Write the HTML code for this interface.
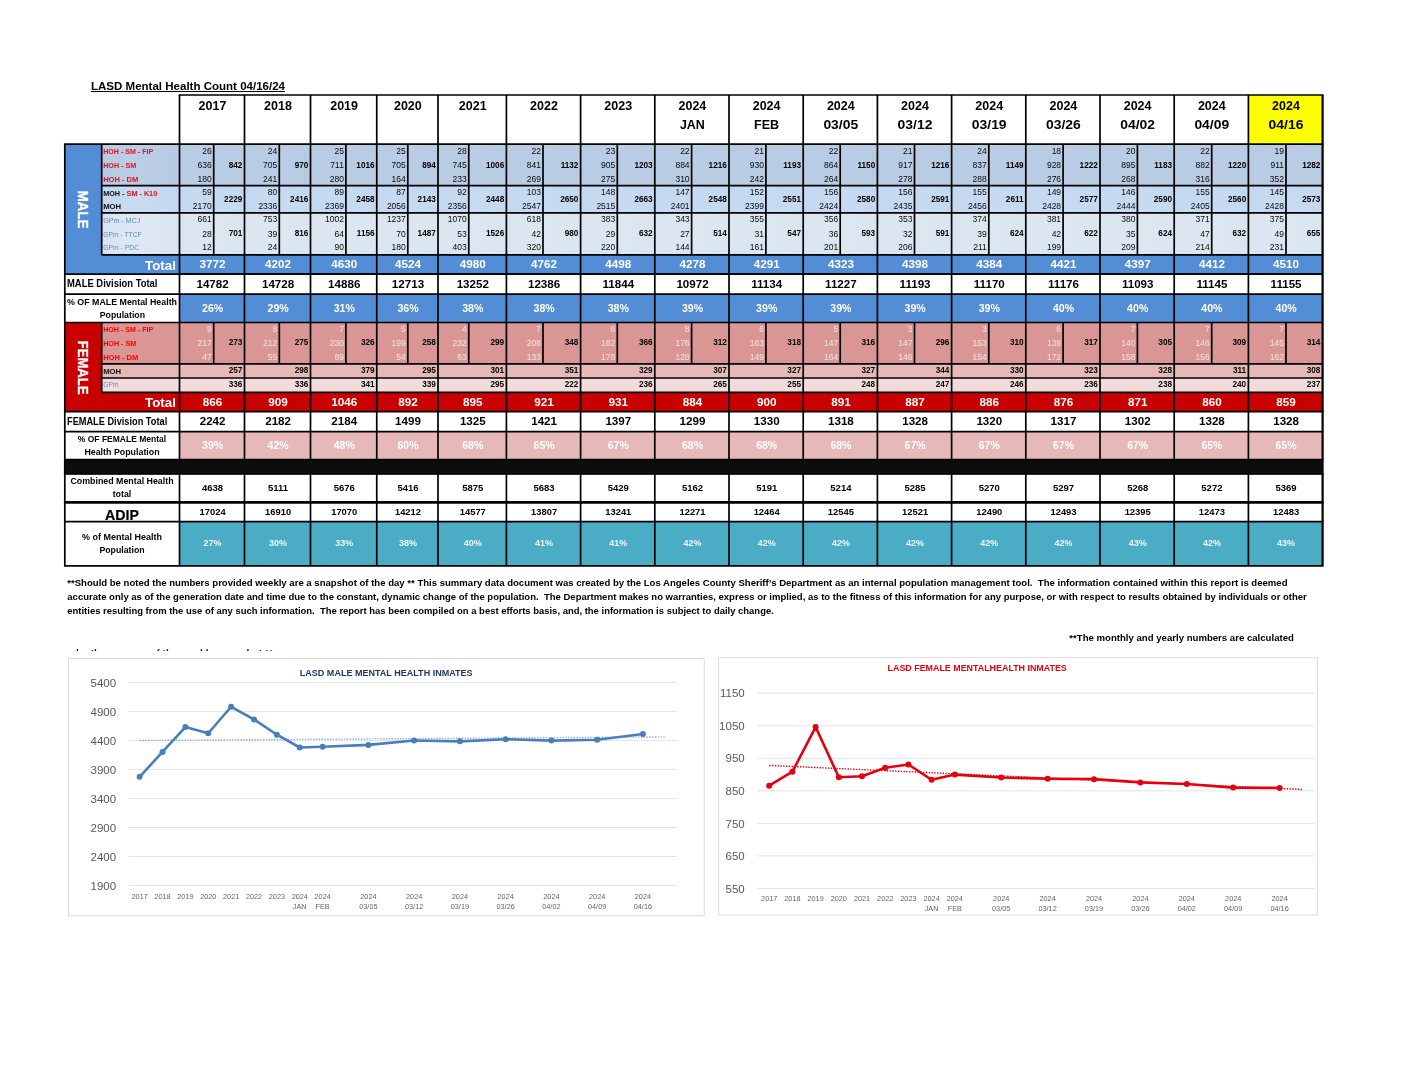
<!DOCTYPE html>
<html lang="en"><head><meta charset="utf-8"><title>LASD Mental Health Count 04/16/24</title>
<style>html,body{margin:0;padding:0;background:#fff}svg{display:block}text{white-space:pre}</style></head>
<body>
<svg width="1408" height="1088" viewBox="0 0 1408 1088" font-family='"Liberation Sans", Arial, sans-serif'>
<defs>
<linearGradient id="g1" x1="0" x2="1" y1="0" y2="0"><stop offset="0" stop-color="#b6cae3"/><stop offset="0.5" stop-color="#bbcee6"/><stop offset="1" stop-color="#b6cae3"/></linearGradient>
<linearGradient id="g2" x1="0" x2="1" y1="0" y2="0"><stop offset="0" stop-color="#c3d7f0"/><stop offset="0.5" stop-color="#c8dbf2"/><stop offset="1" stop-color="#c3d7f0"/></linearGradient>
<linearGradient id="g3" x1="0" x2="1" y1="0" y2="0"><stop offset="0" stop-color="#dae4f0"/><stop offset="0.5" stop-color="#dee8f2"/><stop offset="1" stop-color="#dae4f0"/></linearGradient>
</defs>
<rect x="0.00" y="0.00" width="1408.00" height="1088.00" fill="#fff"/>
<text x="91.00" y="90.20" font-size="10.6" font-weight="bold" fill="#000" textLength="194.00" lengthAdjust="spacingAndGlyphs">LASD Mental Health Count 04/16/24</text>
<line x1="91.00" y1="91.50" x2="285.00" y2="91.50" stroke="#000" stroke-width="1.2"/>
<rect x="1248.40" y="95.00" width="74.20" height="49.10" fill="#ffff00"/>
<rect x="64.80" y="144.10" width="1257.80" height="130.10" fill="#538dd5"/>
<rect x="101.70" y="144.10" width="1220.90" height="41.60" fill="#b8cce4"/>
<rect x="101.70" y="185.70" width="1220.90" height="27.10" fill="#c5d9f1"/>
<rect x="101.70" y="212.80" width="1220.90" height="42.10" fill="#dce6f1"/>
<rect x="179.50" y="294.10" width="1143.10" height="28.40" fill="#538dd5"/>
<rect x="64.80" y="322.50" width="1257.80" height="89.20" fill="#c80000"/>
<rect x="101.70" y="322.50" width="1220.90" height="41.30" fill="#da9694"/>
<rect x="101.70" y="363.80" width="1220.90" height="14.20" fill="#e6b8b7"/>
<rect x="101.70" y="378.00" width="1220.90" height="14.40" fill="#f2dcdb"/>
<rect x="179.50" y="431.60" width="1143.10" height="28.00" fill="#e6b8b7"/>
<rect x="63.95" y="459.60" width="1259.75" height="14.70" fill="#0d0d0d"/>
<rect x="179.50" y="521.70" width="1143.10" height="44.10" fill="#4bacc6"/>
<rect x="101.70" y="144.10" width="77.80" height="41.60" fill="url(#g1)"/>
<rect x="179.50" y="144.10" width="65.00" height="41.60" fill="url(#g1)" opacity="0.45"/>
<rect x="244.50" y="144.10" width="66.00" height="41.60" fill="url(#g1)" opacity="0.45"/>
<rect x="310.50" y="144.10" width="66.25" height="41.60" fill="url(#g1)" opacity="0.45"/>
<rect x="376.75" y="144.10" width="61.25" height="41.60" fill="url(#g1)" opacity="0.45"/>
<rect x="438.00" y="144.10" width="68.40" height="41.60" fill="url(#g1)" opacity="0.45"/>
<rect x="506.40" y="144.10" width="74.20" height="41.60" fill="url(#g1)" opacity="0.45"/>
<rect x="580.60" y="144.10" width="74.20" height="41.60" fill="url(#g1)" opacity="0.45"/>
<rect x="654.80" y="144.10" width="74.20" height="41.60" fill="url(#g1)" opacity="0.45"/>
<rect x="729.00" y="144.10" width="74.20" height="41.60" fill="url(#g1)" opacity="0.45"/>
<rect x="803.20" y="144.10" width="74.20" height="41.60" fill="url(#g1)" opacity="0.45"/>
<rect x="877.40" y="144.10" width="74.20" height="41.60" fill="url(#g1)" opacity="0.45"/>
<rect x="951.60" y="144.10" width="74.20" height="41.60" fill="url(#g1)" opacity="0.45"/>
<rect x="1025.80" y="144.10" width="74.20" height="41.60" fill="url(#g1)" opacity="0.45"/>
<rect x="1100.00" y="144.10" width="74.20" height="41.60" fill="url(#g1)" opacity="0.45"/>
<rect x="1174.20" y="144.10" width="74.20" height="41.60" fill="url(#g1)" opacity="0.45"/>
<rect x="1248.40" y="144.10" width="74.20" height="41.60" fill="url(#g1)" opacity="0.45"/>
<rect x="101.70" y="185.70" width="77.80" height="27.10" fill="url(#g2)"/>
<rect x="179.50" y="185.70" width="65.00" height="27.10" fill="url(#g2)" opacity="0.45"/>
<rect x="244.50" y="185.70" width="66.00" height="27.10" fill="url(#g2)" opacity="0.45"/>
<rect x="310.50" y="185.70" width="66.25" height="27.10" fill="url(#g2)" opacity="0.45"/>
<rect x="376.75" y="185.70" width="61.25" height="27.10" fill="url(#g2)" opacity="0.45"/>
<rect x="438.00" y="185.70" width="68.40" height="27.10" fill="url(#g2)" opacity="0.45"/>
<rect x="506.40" y="185.70" width="74.20" height="27.10" fill="url(#g2)" opacity="0.45"/>
<rect x="580.60" y="185.70" width="74.20" height="27.10" fill="url(#g2)" opacity="0.45"/>
<rect x="654.80" y="185.70" width="74.20" height="27.10" fill="url(#g2)" opacity="0.45"/>
<rect x="729.00" y="185.70" width="74.20" height="27.10" fill="url(#g2)" opacity="0.45"/>
<rect x="803.20" y="185.70" width="74.20" height="27.10" fill="url(#g2)" opacity="0.45"/>
<rect x="877.40" y="185.70" width="74.20" height="27.10" fill="url(#g2)" opacity="0.45"/>
<rect x="951.60" y="185.70" width="74.20" height="27.10" fill="url(#g2)" opacity="0.45"/>
<rect x="1025.80" y="185.70" width="74.20" height="27.10" fill="url(#g2)" opacity="0.45"/>
<rect x="1100.00" y="185.70" width="74.20" height="27.10" fill="url(#g2)" opacity="0.45"/>
<rect x="1174.20" y="185.70" width="74.20" height="27.10" fill="url(#g2)" opacity="0.45"/>
<rect x="1248.40" y="185.70" width="74.20" height="27.10" fill="url(#g2)" opacity="0.45"/>
<rect x="101.70" y="212.80" width="77.80" height="42.10" fill="url(#g3)"/>
<rect x="179.50" y="212.80" width="65.00" height="42.10" fill="url(#g3)" opacity="0.45"/>
<rect x="244.50" y="212.80" width="66.00" height="42.10" fill="url(#g3)" opacity="0.45"/>
<rect x="310.50" y="212.80" width="66.25" height="42.10" fill="url(#g3)" opacity="0.45"/>
<rect x="376.75" y="212.80" width="61.25" height="42.10" fill="url(#g3)" opacity="0.45"/>
<rect x="438.00" y="212.80" width="68.40" height="42.10" fill="url(#g3)" opacity="0.45"/>
<rect x="506.40" y="212.80" width="74.20" height="42.10" fill="url(#g3)" opacity="0.45"/>
<rect x="580.60" y="212.80" width="74.20" height="42.10" fill="url(#g3)" opacity="0.45"/>
<rect x="654.80" y="212.80" width="74.20" height="42.10" fill="url(#g3)" opacity="0.45"/>
<rect x="729.00" y="212.80" width="74.20" height="42.10" fill="url(#g3)" opacity="0.45"/>
<rect x="803.20" y="212.80" width="74.20" height="42.10" fill="url(#g3)" opacity="0.45"/>
<rect x="877.40" y="212.80" width="74.20" height="42.10" fill="url(#g3)" opacity="0.45"/>
<rect x="951.60" y="212.80" width="74.20" height="42.10" fill="url(#g3)" opacity="0.45"/>
<rect x="1025.80" y="212.80" width="74.20" height="42.10" fill="url(#g3)" opacity="0.45"/>
<rect x="1100.00" y="212.80" width="74.20" height="42.10" fill="url(#g3)" opacity="0.45"/>
<rect x="1174.20" y="212.80" width="74.20" height="42.10" fill="url(#g3)" opacity="0.45"/>
<rect x="1248.40" y="212.80" width="74.20" height="42.10" fill="url(#g3)" opacity="0.45"/>
<line x1="178.65" y1="95.00" x2="1323.45" y2="95.00" stroke="#000" stroke-width="1.7"/>
<line x1="63.95" y1="144.10" x2="1323.45" y2="144.10" stroke="#000" stroke-width="1.7"/>
<line x1="101.70" y1="185.70" x2="1322.60" y2="185.70" stroke="#000" stroke-width="1.7"/>
<line x1="101.70" y1="212.80" x2="1322.60" y2="212.80" stroke="#000" stroke-width="1.7"/>
<line x1="101.70" y1="254.90" x2="1322.60" y2="254.90" stroke="#000" stroke-width="1.7"/>
<line x1="179.50" y1="274.20" x2="1322.60" y2="274.20" stroke="#000" stroke-width="1.7"/>
<line x1="64.80" y1="274.20" x2="1322.60" y2="274.20" stroke="#000" stroke-width="1.7"/>
<line x1="64.80" y1="294.10" x2="1322.60" y2="294.10" stroke="#000" stroke-width="1.7"/>
<line x1="64.80" y1="322.50" x2="1322.60" y2="322.50" stroke="#000" stroke-width="1.7"/>
<line x1="101.70" y1="363.80" x2="1322.60" y2="363.80" stroke="#000" stroke-width="1.7"/>
<line x1="101.70" y1="378.00" x2="1322.60" y2="378.00" stroke="#000" stroke-width="1.7"/>
<line x1="101.70" y1="392.40" x2="1322.60" y2="392.40" stroke="#000" stroke-width="1.7"/>
<line x1="63.95" y1="411.70" x2="1323.45" y2="411.70" stroke="#000" stroke-width="1.7"/>
<line x1="63.95" y1="431.60" x2="1323.45" y2="431.60" stroke="#000" stroke-width="1.7"/>
<line x1="63.95" y1="459.60" x2="1323.45" y2="459.60" stroke="#000" stroke-width="1.7"/>
<line x1="63.95" y1="473.80" x2="1323.45" y2="473.80" stroke="#000" stroke-width="1.7"/>
<line x1="63.95" y1="521.70" x2="1323.45" y2="521.70" stroke="#000" stroke-width="1.7"/>
<line x1="63.95" y1="565.80" x2="1323.45" y2="565.80" stroke="#000" stroke-width="1.7"/>
<line x1="63.95" y1="502.40" x2="1323.45" y2="502.40" stroke="#000" stroke-width="2.6"/>
<line x1="64.80" y1="144.10" x2="64.80" y2="565.80" stroke="#000" stroke-width="1.7"/>
<line x1="101.70" y1="144.10" x2="101.70" y2="254.90" stroke="#000" stroke-width="1.7"/>
<line x1="101.70" y1="322.50" x2="101.70" y2="392.40" stroke="#000" stroke-width="1.7"/>
<line x1="179.50" y1="95.00" x2="179.50" y2="459.60" stroke="#000" stroke-width="1.7"/>
<line x1="179.50" y1="473.80" x2="179.50" y2="565.80" stroke="#000" stroke-width="1.7"/>
<line x1="244.50" y1="95.00" x2="244.50" y2="459.60" stroke="#000" stroke-width="1.7"/>
<line x1="244.50" y1="473.80" x2="244.50" y2="565.80" stroke="#000" stroke-width="1.7"/>
<line x1="310.50" y1="95.00" x2="310.50" y2="459.60" stroke="#000" stroke-width="1.7"/>
<line x1="310.50" y1="473.80" x2="310.50" y2="565.80" stroke="#000" stroke-width="1.7"/>
<line x1="376.75" y1="95.00" x2="376.75" y2="459.60" stroke="#000" stroke-width="1.7"/>
<line x1="376.75" y1="473.80" x2="376.75" y2="565.80" stroke="#000" stroke-width="1.7"/>
<line x1="438.00" y1="95.00" x2="438.00" y2="459.60" stroke="#000" stroke-width="1.7"/>
<line x1="438.00" y1="473.80" x2="438.00" y2="565.80" stroke="#000" stroke-width="1.7"/>
<line x1="506.40" y1="95.00" x2="506.40" y2="459.60" stroke="#000" stroke-width="1.7"/>
<line x1="506.40" y1="473.80" x2="506.40" y2="565.80" stroke="#000" stroke-width="1.7"/>
<line x1="580.60" y1="95.00" x2="580.60" y2="459.60" stroke="#000" stroke-width="1.7"/>
<line x1="580.60" y1="473.80" x2="580.60" y2="565.80" stroke="#000" stroke-width="1.7"/>
<line x1="654.80" y1="95.00" x2="654.80" y2="459.60" stroke="#000" stroke-width="1.7"/>
<line x1="654.80" y1="473.80" x2="654.80" y2="565.80" stroke="#000" stroke-width="1.7"/>
<line x1="729.00" y1="95.00" x2="729.00" y2="459.60" stroke="#000" stroke-width="1.7"/>
<line x1="729.00" y1="473.80" x2="729.00" y2="565.80" stroke="#000" stroke-width="1.7"/>
<line x1="803.20" y1="95.00" x2="803.20" y2="459.60" stroke="#000" stroke-width="1.7"/>
<line x1="803.20" y1="473.80" x2="803.20" y2="565.80" stroke="#000" stroke-width="1.7"/>
<line x1="877.40" y1="95.00" x2="877.40" y2="459.60" stroke="#000" stroke-width="1.7"/>
<line x1="877.40" y1="473.80" x2="877.40" y2="565.80" stroke="#000" stroke-width="1.7"/>
<line x1="951.60" y1="95.00" x2="951.60" y2="459.60" stroke="#000" stroke-width="1.7"/>
<line x1="951.60" y1="473.80" x2="951.60" y2="565.80" stroke="#000" stroke-width="1.7"/>
<line x1="1025.80" y1="95.00" x2="1025.80" y2="459.60" stroke="#000" stroke-width="1.7"/>
<line x1="1025.80" y1="473.80" x2="1025.80" y2="565.80" stroke="#000" stroke-width="1.7"/>
<line x1="1100.00" y1="95.00" x2="1100.00" y2="459.60" stroke="#000" stroke-width="1.7"/>
<line x1="1100.00" y1="473.80" x2="1100.00" y2="565.80" stroke="#000" stroke-width="1.7"/>
<line x1="1174.20" y1="95.00" x2="1174.20" y2="459.60" stroke="#000" stroke-width="1.7"/>
<line x1="1174.20" y1="473.80" x2="1174.20" y2="565.80" stroke="#000" stroke-width="1.7"/>
<line x1="1248.40" y1="95.00" x2="1248.40" y2="459.60" stroke="#000" stroke-width="1.7"/>
<line x1="1248.40" y1="473.80" x2="1248.40" y2="565.80" stroke="#000" stroke-width="1.7"/>
<line x1="1322.60" y1="95.00" x2="1322.60" y2="459.60" stroke="#000" stroke-width="2.2"/>
<line x1="1322.60" y1="473.80" x2="1322.60" y2="565.80" stroke="#000" stroke-width="2.2"/>
<line x1="213.70" y1="144.10" x2="213.70" y2="254.90" stroke="#000" stroke-width="1.7"/>
<line x1="213.70" y1="322.50" x2="213.70" y2="363.80" stroke="#000" stroke-width="1.7"/>
<line x1="279.30" y1="144.10" x2="279.30" y2="254.90" stroke="#000" stroke-width="1.7"/>
<line x1="279.30" y1="322.50" x2="279.30" y2="363.80" stroke="#000" stroke-width="1.7"/>
<line x1="345.90" y1="144.10" x2="345.90" y2="254.90" stroke="#000" stroke-width="1.7"/>
<line x1="345.90" y1="322.50" x2="345.90" y2="363.80" stroke="#000" stroke-width="1.7"/>
<line x1="407.80" y1="144.10" x2="407.80" y2="254.90" stroke="#000" stroke-width="1.7"/>
<line x1="407.80" y1="322.50" x2="407.80" y2="363.80" stroke="#000" stroke-width="1.7"/>
<line x1="468.75" y1="144.10" x2="468.75" y2="254.90" stroke="#000" stroke-width="1.7"/>
<line x1="468.75" y1="322.50" x2="468.75" y2="363.80" stroke="#000" stroke-width="1.7"/>
<line x1="543.00" y1="144.10" x2="543.00" y2="254.90" stroke="#000" stroke-width="1.7"/>
<line x1="543.00" y1="322.50" x2="543.00" y2="363.80" stroke="#000" stroke-width="1.7"/>
<line x1="617.30" y1="144.10" x2="617.30" y2="254.90" stroke="#000" stroke-width="1.7"/>
<line x1="617.30" y1="322.50" x2="617.30" y2="363.80" stroke="#000" stroke-width="1.7"/>
<line x1="691.60" y1="144.10" x2="691.60" y2="254.90" stroke="#000" stroke-width="1.7"/>
<line x1="691.60" y1="322.50" x2="691.60" y2="363.80" stroke="#000" stroke-width="1.7"/>
<line x1="765.90" y1="144.10" x2="765.90" y2="254.90" stroke="#000" stroke-width="1.7"/>
<line x1="765.90" y1="322.50" x2="765.90" y2="363.80" stroke="#000" stroke-width="1.7"/>
<line x1="840.20" y1="144.10" x2="840.20" y2="254.90" stroke="#000" stroke-width="1.7"/>
<line x1="840.20" y1="322.50" x2="840.20" y2="363.80" stroke="#000" stroke-width="1.7"/>
<line x1="914.50" y1="144.10" x2="914.50" y2="254.90" stroke="#000" stroke-width="1.7"/>
<line x1="914.50" y1="322.50" x2="914.50" y2="363.80" stroke="#000" stroke-width="1.7"/>
<line x1="988.80" y1="144.10" x2="988.80" y2="254.90" stroke="#000" stroke-width="1.7"/>
<line x1="988.80" y1="322.50" x2="988.80" y2="363.80" stroke="#000" stroke-width="1.7"/>
<line x1="1063.10" y1="144.10" x2="1063.10" y2="254.90" stroke="#000" stroke-width="1.7"/>
<line x1="1063.10" y1="322.50" x2="1063.10" y2="363.80" stroke="#000" stroke-width="1.7"/>
<line x1="1137.40" y1="144.10" x2="1137.40" y2="254.90" stroke="#000" stroke-width="1.7"/>
<line x1="1137.40" y1="322.50" x2="1137.40" y2="363.80" stroke="#000" stroke-width="1.7"/>
<line x1="1211.70" y1="144.10" x2="1211.70" y2="254.90" stroke="#000" stroke-width="1.7"/>
<line x1="1211.70" y1="322.50" x2="1211.70" y2="363.80" stroke="#000" stroke-width="1.7"/>
<line x1="1286.00" y1="144.10" x2="1286.00" y2="254.90" stroke="#000" stroke-width="1.7"/>
<line x1="1286.00" y1="322.50" x2="1286.00" y2="363.80" stroke="#000" stroke-width="1.7"/>
<text x="212.50" y="109.70" font-size="12.5" font-weight="bold" fill="#000" text-anchor="middle">2017</text>
<text x="278.00" y="109.70" font-size="12.5" font-weight="bold" fill="#000" text-anchor="middle">2018</text>
<text x="344.12" y="109.70" font-size="12.5" font-weight="bold" fill="#000" text-anchor="middle">2019</text>
<text x="407.88" y="109.70" font-size="12.5" font-weight="bold" fill="#000" text-anchor="middle">2020</text>
<text x="472.70" y="109.70" font-size="12.5" font-weight="bold" fill="#000" text-anchor="middle">2021</text>
<text x="544.00" y="109.70" font-size="12.5" font-weight="bold" fill="#000" text-anchor="middle">2022</text>
<text x="618.20" y="109.70" font-size="12.5" font-weight="bold" fill="#000" text-anchor="middle">2023</text>
<text x="692.40" y="109.70" font-size="12.5" font-weight="bold" fill="#000" text-anchor="middle">2024</text>
<text x="692.40" y="128.60" font-size="12.5" font-weight="bold" fill="#000" text-anchor="middle">JAN</text>
<text x="766.60" y="109.70" font-size="12.5" font-weight="bold" fill="#000" text-anchor="middle">2024</text>
<text x="766.60" y="128.60" font-size="12.5" font-weight="bold" fill="#000" text-anchor="middle">FEB</text>
<text x="840.80" y="109.70" font-size="12.5" font-weight="bold" fill="#000" text-anchor="middle">2024</text>
<text x="840.80" y="128.60" font-size="12.5" font-weight="bold" fill="#000" text-anchor="middle" textLength="34.80" lengthAdjust="spacingAndGlyphs">03/05</text>
<text x="915.00" y="109.70" font-size="12.5" font-weight="bold" fill="#000" text-anchor="middle">2024</text>
<text x="915.00" y="128.60" font-size="12.5" font-weight="bold" fill="#000" text-anchor="middle" textLength="34.80" lengthAdjust="spacingAndGlyphs">03/12</text>
<text x="989.20" y="109.70" font-size="12.5" font-weight="bold" fill="#000" text-anchor="middle">2024</text>
<text x="989.20" y="128.60" font-size="12.5" font-weight="bold" fill="#000" text-anchor="middle" textLength="34.80" lengthAdjust="spacingAndGlyphs">03/19</text>
<text x="1063.40" y="109.70" font-size="12.5" font-weight="bold" fill="#000" text-anchor="middle">2024</text>
<text x="1063.40" y="128.60" font-size="12.5" font-weight="bold" fill="#000" text-anchor="middle" textLength="34.80" lengthAdjust="spacingAndGlyphs">03/26</text>
<text x="1137.60" y="109.70" font-size="12.5" font-weight="bold" fill="#000" text-anchor="middle">2024</text>
<text x="1137.60" y="128.60" font-size="12.5" font-weight="bold" fill="#000" text-anchor="middle" textLength="34.80" lengthAdjust="spacingAndGlyphs">04/02</text>
<text x="1211.80" y="109.70" font-size="12.5" font-weight="bold" fill="#000" text-anchor="middle">2024</text>
<text x="1211.80" y="128.60" font-size="12.5" font-weight="bold" fill="#000" text-anchor="middle" textLength="34.80" lengthAdjust="spacingAndGlyphs">04/09</text>
<text x="1286.00" y="109.70" font-size="12.5" font-weight="bold" fill="#000" text-anchor="middle">2024</text>
<text x="1286.00" y="128.60" font-size="12.5" font-weight="bold" fill="#000" text-anchor="middle" textLength="34.80" lengthAdjust="spacingAndGlyphs">04/16</text>
<text x="103.20" y="153.90" font-size="6.3" font-weight="bold" fill="#e8101c" textLength="50.00" lengthAdjust="spacingAndGlyphs">HOH - SM - FIP</text>
<text x="103.20" y="167.70" font-size="6.3" font-weight="bold" fill="#e8101c" textLength="33.00" lengthAdjust="spacingAndGlyphs">HOH - SM</text>
<text x="103.20" y="181.60" font-size="6.3" font-weight="bold" fill="#e8101c" textLength="35.00" lengthAdjust="spacingAndGlyphs">HOH - DM</text>
<text x="103.2" y="195.6" font-size="6.3" font-weight="bold" textLength="54" lengthAdjust="spacingAndGlyphs"><tspan fill="#111">MOH - </tspan><tspan fill="#e8101c">SM - K10</tspan></text>
<text x="103.20" y="208.90" font-size="6.3" font-weight="bold" fill="#111" textLength="18.00" lengthAdjust="spacingAndGlyphs">MOH</text>
<text x="103.20" y="222.60" font-size="6.3" fill="#5b8bd0" textLength="37.00" lengthAdjust="spacingAndGlyphs">GPm - MCJ</text>
<text x="103.20" y="236.60" font-size="6.3" fill="#5b8bd0" textLength="38.50" lengthAdjust="spacingAndGlyphs">GPm - TTCF</text>
<text x="103.20" y="250.20" font-size="6.3" fill="#5b8bd0" textLength="36.00" lengthAdjust="spacingAndGlyphs">GPm - PDC</text>
<text transform="translate(78.3,209.5) rotate(90)" font-size="15.4" font-weight="bold" fill="#fff" stroke="#fff" stroke-width="0.35" text-anchor="middle" textLength="38" lengthAdjust="spacingAndGlyphs">MALE</text>
<text transform="translate(77.7,367.6) rotate(90)" font-size="15.4" font-weight="bold" fill="#fff" stroke="#fff" stroke-width="0.35" text-anchor="middle" textLength="54" lengthAdjust="spacingAndGlyphs">FEMALE</text>
<text x="175.90" y="269.60" font-size="13" font-weight="bold" fill="#fff" text-anchor="end" textLength="30.80" lengthAdjust="spacingAndGlyphs">Total</text>
<text x="175.90" y="406.80" font-size="13" font-weight="bold" fill="#fff" text-anchor="end" textLength="30.80" lengthAdjust="spacingAndGlyphs">Total</text>
<text x="67.00" y="286.70" font-size="11.0" font-weight="bold" fill="#000" textLength="90.50" lengthAdjust="spacingAndGlyphs">MALE Division Total</text>
<text x="122.00" y="304.60" font-size="9.5" font-weight="bold" fill="#000" text-anchor="middle" textLength="110.00" lengthAdjust="spacingAndGlyphs">% OF MALE Mental Health</text>
<text x="122.40" y="317.50" font-size="9.5" font-weight="bold" fill="#000" text-anchor="middle" textLength="45.30" lengthAdjust="spacingAndGlyphs">Population</text>
<text x="67.00" y="424.60" font-size="10.2" font-weight="bold" fill="#000" textLength="100.20" lengthAdjust="spacingAndGlyphs">FEMALE Division Total</text>
<text x="122.00" y="441.50" font-size="9.5" font-weight="bold" fill="#000" text-anchor="middle" textLength="88.30" lengthAdjust="spacingAndGlyphs">% OF FEMALE Mental</text>
<text x="122.00" y="455.20" font-size="9.5" font-weight="bold" fill="#000" text-anchor="middle" textLength="75.20" lengthAdjust="spacingAndGlyphs">Health Population</text>
<text x="122.00" y="484.40" font-size="9.3" font-weight="bold" fill="#000" text-anchor="middle" textLength="103.20" lengthAdjust="spacingAndGlyphs">Combined Mental Health</text>
<text x="122.00" y="497.30" font-size="9.3" font-weight="bold" fill="#000" text-anchor="middle" textLength="18.60" lengthAdjust="spacingAndGlyphs">total</text>
<text x="122.00" y="519.90" font-size="14.2" font-weight="bold" fill="#000" text-anchor="middle" stroke="#000" stroke-width="0.2">ADIP</text>
<text x="122.00" y="539.50" font-size="9.3" font-weight="bold" fill="#000" text-anchor="middle" textLength="80.00" lengthAdjust="spacingAndGlyphs">% of Mental Health</text>
<text x="122.00" y="553.20" font-size="9.3" font-weight="bold" fill="#000" text-anchor="middle" textLength="45.20" lengthAdjust="spacingAndGlyphs">Population</text>
<text x="103.20" y="331.80" font-size="6.3" font-weight="bold" fill="#ff0000" textLength="50.00" lengthAdjust="spacingAndGlyphs">HOH - SM - FIP</text>
<text x="103.20" y="345.50" font-size="6.3" font-weight="bold" fill="#ff0000" textLength="33.00" lengthAdjust="spacingAndGlyphs">HOH - SM</text>
<text x="103.20" y="359.60" font-size="6.3" font-weight="bold" fill="#ff0000" textLength="35.00" lengthAdjust="spacingAndGlyphs">HOH - DM</text>
<text x="103.20" y="373.50" font-size="6.3" font-weight="bold" fill="#111" textLength="18.00" lengthAdjust="spacingAndGlyphs">MOH</text>
<text x="103.20" y="387.40" font-size="6.3" fill="#5b8bd6" textLength="15.50" lengthAdjust="spacingAndGlyphs">GPm</text>
<text x="211.70" y="154.20" font-size="8.5" fill="#0a0a0a" text-anchor="end">26</text>
<text x="211.70" y="168.20" font-size="8.5" fill="#0a0a0a" text-anchor="end">636</text>
<text x="211.70" y="181.70" font-size="8.5" fill="#0a0a0a" text-anchor="end">180</text>
<text x="242.30" y="167.70" font-size="8.2" font-weight="bold" fill="#000" text-anchor="end">842</text>
<text x="211.70" y="195.40" font-size="8.5" fill="#0a0a0a" text-anchor="end">59</text>
<text x="211.70" y="209.10" font-size="8.5" fill="#0a0a0a" text-anchor="end">2170</text>
<text x="242.30" y="201.80" font-size="8.2" font-weight="bold" fill="#000" text-anchor="end">2229</text>
<text x="211.70" y="222.40" font-size="8.5" fill="#0a0a0a" text-anchor="end">661</text>
<text x="211.70" y="236.60" font-size="8.5" fill="#0a0a0a" text-anchor="end">28</text>
<text x="211.70" y="250.30" font-size="8.5" fill="#0a0a0a" text-anchor="end">12</text>
<text x="242.30" y="236.10" font-size="8.2" font-weight="bold" fill="#000" text-anchor="end">701</text>
<text x="212.60" y="267.80" font-size="11.7" font-weight="bold" fill="#fff" text-anchor="middle">3772</text>
<text x="212.60" y="287.70" font-size="11.6" font-weight="bold" fill="#000" text-anchor="middle">14782</text>
<text x="212.60" y="312.20" font-size="10.6" font-weight="bold" fill="#fff" text-anchor="middle">26%</text>
<text x="211.70" y="332.30" font-size="8.5" fill="#f6e4e3" text-anchor="end">9</text>
<text x="211.70" y="346.00" font-size="8.5" fill="#f6e4e3" text-anchor="end">217</text>
<text x="211.70" y="359.60" font-size="8.5" fill="#f6e4e3" text-anchor="end">47</text>
<text x="242.30" y="344.70" font-size="8.2" font-weight="bold" fill="#000" text-anchor="end">273</text>
<text x="242.30" y="372.50" font-size="8.2" font-weight="bold" fill="#000" text-anchor="end">257</text>
<text x="242.30" y="386.90" font-size="8.2" font-weight="bold" fill="#000" text-anchor="end">336</text>
<text x="212.60" y="405.50" font-size="11.7" font-weight="bold" fill="#fff" text-anchor="middle">866</text>
<text x="212.60" y="424.60" font-size="11.6" font-weight="bold" fill="#000" text-anchor="middle">2242</text>
<text x="212.60" y="448.50" font-size="10.5" font-weight="bold" fill="#fff" text-anchor="middle">39%</text>
<text x="212.60" y="490.60" font-size="9.5" font-weight="bold" fill="#000" text-anchor="middle">4638</text>
<text x="212.60" y="514.70" font-size="9.4" font-weight="bold" fill="#000" text-anchor="middle">17024</text>
<text x="212.60" y="546.20" font-size="9" font-weight="bold" fill="#eef8fb" text-anchor="middle">27%</text>
<text x="277.30" y="154.20" font-size="8.5" fill="#0a0a0a" text-anchor="end">24</text>
<text x="277.30" y="168.20" font-size="8.5" fill="#0a0a0a" text-anchor="end">705</text>
<text x="277.30" y="181.70" font-size="8.5" fill="#0a0a0a" text-anchor="end">241</text>
<text x="308.30" y="167.70" font-size="8.2" font-weight="bold" fill="#000" text-anchor="end">970</text>
<text x="277.30" y="195.40" font-size="8.5" fill="#0a0a0a" text-anchor="end">80</text>
<text x="277.30" y="209.10" font-size="8.5" fill="#0a0a0a" text-anchor="end">2336</text>
<text x="308.30" y="201.80" font-size="8.2" font-weight="bold" fill="#000" text-anchor="end">2416</text>
<text x="277.30" y="222.40" font-size="8.5" fill="#0a0a0a" text-anchor="end">753</text>
<text x="277.30" y="236.60" font-size="8.5" fill="#0a0a0a" text-anchor="end">39</text>
<text x="277.30" y="250.30" font-size="8.5" fill="#0a0a0a" text-anchor="end">24</text>
<text x="308.30" y="236.10" font-size="8.2" font-weight="bold" fill="#000" text-anchor="end">816</text>
<text x="278.10" y="267.80" font-size="11.7" font-weight="bold" fill="#fff" text-anchor="middle">4202</text>
<text x="278.10" y="287.70" font-size="11.6" font-weight="bold" fill="#000" text-anchor="middle">14728</text>
<text x="278.10" y="312.20" font-size="10.6" font-weight="bold" fill="#fff" text-anchor="middle">29%</text>
<text x="277.30" y="332.30" font-size="8.5" fill="#f6e4e3" text-anchor="end">8</text>
<text x="277.30" y="346.00" font-size="8.5" fill="#f6e4e3" text-anchor="end">212</text>
<text x="277.30" y="359.60" font-size="8.5" fill="#f6e4e3" text-anchor="end">55</text>
<text x="308.30" y="344.70" font-size="8.2" font-weight="bold" fill="#000" text-anchor="end">275</text>
<text x="308.30" y="372.50" font-size="8.2" font-weight="bold" fill="#000" text-anchor="end">298</text>
<text x="308.30" y="386.90" font-size="8.2" font-weight="bold" fill="#000" text-anchor="end">336</text>
<text x="278.10" y="405.50" font-size="11.7" font-weight="bold" fill="#fff" text-anchor="middle">909</text>
<text x="278.10" y="424.60" font-size="11.6" font-weight="bold" fill="#000" text-anchor="middle">2182</text>
<text x="278.10" y="448.50" font-size="10.5" font-weight="bold" fill="#fff" text-anchor="middle">42%</text>
<text x="278.10" y="490.60" font-size="9.5" font-weight="bold" fill="#000" text-anchor="middle">5111</text>
<text x="278.10" y="514.70" font-size="9.4" font-weight="bold" fill="#000" text-anchor="middle">16910</text>
<text x="278.10" y="546.20" font-size="9" font-weight="bold" fill="#eef8fb" text-anchor="middle">30%</text>
<text x="343.90" y="154.20" font-size="8.5" fill="#0a0a0a" text-anchor="end">25</text>
<text x="343.90" y="168.20" font-size="8.5" fill="#0a0a0a" text-anchor="end">711</text>
<text x="343.90" y="181.70" font-size="8.5" fill="#0a0a0a" text-anchor="end">280</text>
<text x="374.55" y="167.70" font-size="8.2" font-weight="bold" fill="#000" text-anchor="end">1016</text>
<text x="343.90" y="195.40" font-size="8.5" fill="#0a0a0a" text-anchor="end">89</text>
<text x="343.90" y="209.10" font-size="8.5" fill="#0a0a0a" text-anchor="end">2369</text>
<text x="374.55" y="201.80" font-size="8.2" font-weight="bold" fill="#000" text-anchor="end">2458</text>
<text x="343.90" y="222.40" font-size="8.5" fill="#0a0a0a" text-anchor="end">1002</text>
<text x="343.90" y="236.60" font-size="8.5" fill="#0a0a0a" text-anchor="end">64</text>
<text x="343.90" y="250.30" font-size="8.5" fill="#0a0a0a" text-anchor="end">90</text>
<text x="374.55" y="236.10" font-size="8.2" font-weight="bold" fill="#000" text-anchor="end">1156</text>
<text x="344.23" y="267.80" font-size="11.7" font-weight="bold" fill="#fff" text-anchor="middle">4630</text>
<text x="344.23" y="287.70" font-size="11.6" font-weight="bold" fill="#000" text-anchor="middle">14886</text>
<text x="344.23" y="312.20" font-size="10.6" font-weight="bold" fill="#fff" text-anchor="middle">31%</text>
<text x="343.90" y="332.30" font-size="8.5" fill="#f6e4e3" text-anchor="end">7</text>
<text x="343.90" y="346.00" font-size="8.5" fill="#f6e4e3" text-anchor="end">230</text>
<text x="343.90" y="359.60" font-size="8.5" fill="#f6e4e3" text-anchor="end">89</text>
<text x="374.55" y="344.70" font-size="8.2" font-weight="bold" fill="#000" text-anchor="end">326</text>
<text x="374.55" y="372.50" font-size="8.2" font-weight="bold" fill="#000" text-anchor="end">379</text>
<text x="374.55" y="386.90" font-size="8.2" font-weight="bold" fill="#000" text-anchor="end">341</text>
<text x="344.23" y="405.50" font-size="11.7" font-weight="bold" fill="#fff" text-anchor="middle">1046</text>
<text x="344.23" y="424.60" font-size="11.6" font-weight="bold" fill="#000" text-anchor="middle">2184</text>
<text x="344.23" y="448.50" font-size="10.5" font-weight="bold" fill="#fff" text-anchor="middle">48%</text>
<text x="344.23" y="490.60" font-size="9.5" font-weight="bold" fill="#000" text-anchor="middle">5676</text>
<text x="344.23" y="514.70" font-size="9.4" font-weight="bold" fill="#000" text-anchor="middle">17070</text>
<text x="344.23" y="546.20" font-size="9" font-weight="bold" fill="#eef8fb" text-anchor="middle">33%</text>
<text x="405.80" y="154.20" font-size="8.5" fill="#0a0a0a" text-anchor="end">25</text>
<text x="405.80" y="168.20" font-size="8.5" fill="#0a0a0a" text-anchor="end">705</text>
<text x="405.80" y="181.70" font-size="8.5" fill="#0a0a0a" text-anchor="end">164</text>
<text x="435.80" y="167.70" font-size="8.2" font-weight="bold" fill="#000" text-anchor="end">894</text>
<text x="405.80" y="195.40" font-size="8.5" fill="#0a0a0a" text-anchor="end">87</text>
<text x="405.80" y="209.10" font-size="8.5" fill="#0a0a0a" text-anchor="end">2056</text>
<text x="435.80" y="201.80" font-size="8.2" font-weight="bold" fill="#000" text-anchor="end">2143</text>
<text x="405.80" y="222.40" font-size="8.5" fill="#0a0a0a" text-anchor="end">1237</text>
<text x="405.80" y="236.60" font-size="8.5" fill="#0a0a0a" text-anchor="end">70</text>
<text x="405.80" y="250.30" font-size="8.5" fill="#0a0a0a" text-anchor="end">180</text>
<text x="435.80" y="236.10" font-size="8.2" font-weight="bold" fill="#000" text-anchor="end">1487</text>
<text x="407.98" y="267.80" font-size="11.7" font-weight="bold" fill="#fff" text-anchor="middle">4524</text>
<text x="407.98" y="287.70" font-size="11.6" font-weight="bold" fill="#000" text-anchor="middle">12713</text>
<text x="407.98" y="312.20" font-size="10.6" font-weight="bold" fill="#fff" text-anchor="middle">36%</text>
<text x="405.80" y="332.30" font-size="8.5" fill="#f6e4e3" text-anchor="end">5</text>
<text x="405.80" y="346.00" font-size="8.5" fill="#f6e4e3" text-anchor="end">199</text>
<text x="405.80" y="359.60" font-size="8.5" fill="#f6e4e3" text-anchor="end">54</text>
<text x="435.80" y="344.70" font-size="8.2" font-weight="bold" fill="#000" text-anchor="end">258</text>
<text x="435.80" y="372.50" font-size="8.2" font-weight="bold" fill="#000" text-anchor="end">295</text>
<text x="435.80" y="386.90" font-size="8.2" font-weight="bold" fill="#000" text-anchor="end">339</text>
<text x="407.98" y="405.50" font-size="11.7" font-weight="bold" fill="#fff" text-anchor="middle">892</text>
<text x="407.98" y="424.60" font-size="11.6" font-weight="bold" fill="#000" text-anchor="middle">1499</text>
<text x="407.98" y="448.50" font-size="10.5" font-weight="bold" fill="#fff" text-anchor="middle">60%</text>
<text x="407.98" y="490.60" font-size="9.5" font-weight="bold" fill="#000" text-anchor="middle">5416</text>
<text x="407.98" y="514.70" font-size="9.4" font-weight="bold" fill="#000" text-anchor="middle">14212</text>
<text x="407.98" y="546.20" font-size="9" font-weight="bold" fill="#eef8fb" text-anchor="middle">38%</text>
<text x="466.75" y="154.20" font-size="8.5" fill="#0a0a0a" text-anchor="end">28</text>
<text x="466.75" y="168.20" font-size="8.5" fill="#0a0a0a" text-anchor="end">745</text>
<text x="466.75" y="181.70" font-size="8.5" fill="#0a0a0a" text-anchor="end">233</text>
<text x="504.20" y="167.70" font-size="8.2" font-weight="bold" fill="#000" text-anchor="end">1006</text>
<text x="466.75" y="195.40" font-size="8.5" fill="#0a0a0a" text-anchor="end">92</text>
<text x="466.75" y="209.10" font-size="8.5" fill="#0a0a0a" text-anchor="end">2356</text>
<text x="504.20" y="201.80" font-size="8.2" font-weight="bold" fill="#000" text-anchor="end">2448</text>
<text x="466.75" y="222.40" font-size="8.5" fill="#0a0a0a" text-anchor="end">1070</text>
<text x="466.75" y="236.60" font-size="8.5" fill="#0a0a0a" text-anchor="end">53</text>
<text x="466.75" y="250.30" font-size="8.5" fill="#0a0a0a" text-anchor="end">403</text>
<text x="504.20" y="236.10" font-size="8.2" font-weight="bold" fill="#000" text-anchor="end">1526</text>
<text x="472.80" y="267.80" font-size="11.7" font-weight="bold" fill="#fff" text-anchor="middle">4980</text>
<text x="472.80" y="287.70" font-size="11.6" font-weight="bold" fill="#000" text-anchor="middle">13252</text>
<text x="472.80" y="312.20" font-size="10.6" font-weight="bold" fill="#fff" text-anchor="middle">38%</text>
<text x="466.75" y="332.30" font-size="8.5" fill="#f6e4e3" text-anchor="end">4</text>
<text x="466.75" y="346.00" font-size="8.5" fill="#f6e4e3" text-anchor="end">232</text>
<text x="466.75" y="359.60" font-size="8.5" fill="#f6e4e3" text-anchor="end">63</text>
<text x="504.20" y="344.70" font-size="8.2" font-weight="bold" fill="#000" text-anchor="end">299</text>
<text x="504.20" y="372.50" font-size="8.2" font-weight="bold" fill="#000" text-anchor="end">301</text>
<text x="504.20" y="386.90" font-size="8.2" font-weight="bold" fill="#000" text-anchor="end">295</text>
<text x="472.80" y="405.50" font-size="11.7" font-weight="bold" fill="#fff" text-anchor="middle">895</text>
<text x="472.80" y="424.60" font-size="11.6" font-weight="bold" fill="#000" text-anchor="middle">1325</text>
<text x="472.80" y="448.50" font-size="10.5" font-weight="bold" fill="#fff" text-anchor="middle">68%</text>
<text x="472.80" y="490.60" font-size="9.5" font-weight="bold" fill="#000" text-anchor="middle">5875</text>
<text x="472.80" y="514.70" font-size="9.4" font-weight="bold" fill="#000" text-anchor="middle">14577</text>
<text x="472.80" y="546.20" font-size="9" font-weight="bold" fill="#eef8fb" text-anchor="middle">40%</text>
<text x="541.00" y="154.20" font-size="8.5" fill="#0a0a0a" text-anchor="end">22</text>
<text x="541.00" y="168.20" font-size="8.5" fill="#0a0a0a" text-anchor="end">841</text>
<text x="541.00" y="181.70" font-size="8.5" fill="#0a0a0a" text-anchor="end">269</text>
<text x="578.40" y="167.70" font-size="8.2" font-weight="bold" fill="#000" text-anchor="end">1132</text>
<text x="541.00" y="195.40" font-size="8.5" fill="#0a0a0a" text-anchor="end">103</text>
<text x="541.00" y="209.10" font-size="8.5" fill="#0a0a0a" text-anchor="end">2547</text>
<text x="578.40" y="201.80" font-size="8.2" font-weight="bold" fill="#000" text-anchor="end">2650</text>
<text x="541.00" y="222.40" font-size="8.5" fill="#0a0a0a" text-anchor="end">618</text>
<text x="541.00" y="236.60" font-size="8.5" fill="#0a0a0a" text-anchor="end">42</text>
<text x="541.00" y="250.30" font-size="8.5" fill="#0a0a0a" text-anchor="end">320</text>
<text x="578.40" y="236.10" font-size="8.2" font-weight="bold" fill="#000" text-anchor="end">980</text>
<text x="544.10" y="267.80" font-size="11.7" font-weight="bold" fill="#fff" text-anchor="middle">4762</text>
<text x="544.10" y="287.70" font-size="11.6" font-weight="bold" fill="#000" text-anchor="middle">12386</text>
<text x="544.10" y="312.20" font-size="10.6" font-weight="bold" fill="#fff" text-anchor="middle">38%</text>
<text x="541.00" y="332.30" font-size="8.5" fill="#f6e4e3" text-anchor="end">7</text>
<text x="541.00" y="346.00" font-size="8.5" fill="#f6e4e3" text-anchor="end">208</text>
<text x="541.00" y="359.60" font-size="8.5" fill="#f6e4e3" text-anchor="end">133</text>
<text x="578.40" y="344.70" font-size="8.2" font-weight="bold" fill="#000" text-anchor="end">348</text>
<text x="578.40" y="372.50" font-size="8.2" font-weight="bold" fill="#000" text-anchor="end">351</text>
<text x="578.40" y="386.90" font-size="8.2" font-weight="bold" fill="#000" text-anchor="end">222</text>
<text x="544.10" y="405.50" font-size="11.7" font-weight="bold" fill="#fff" text-anchor="middle">921</text>
<text x="544.10" y="424.60" font-size="11.6" font-weight="bold" fill="#000" text-anchor="middle">1421</text>
<text x="544.10" y="448.50" font-size="10.5" font-weight="bold" fill="#fff" text-anchor="middle">65%</text>
<text x="544.10" y="490.60" font-size="9.5" font-weight="bold" fill="#000" text-anchor="middle">5683</text>
<text x="544.10" y="514.70" font-size="9.4" font-weight="bold" fill="#000" text-anchor="middle">13807</text>
<text x="544.10" y="546.20" font-size="9" font-weight="bold" fill="#eef8fb" text-anchor="middle">41%</text>
<text x="615.30" y="154.20" font-size="8.5" fill="#0a0a0a" text-anchor="end">23</text>
<text x="615.30" y="168.20" font-size="8.5" fill="#0a0a0a" text-anchor="end">905</text>
<text x="615.30" y="181.70" font-size="8.5" fill="#0a0a0a" text-anchor="end">275</text>
<text x="652.60" y="167.70" font-size="8.2" font-weight="bold" fill="#000" text-anchor="end">1203</text>
<text x="615.30" y="195.40" font-size="8.5" fill="#0a0a0a" text-anchor="end">148</text>
<text x="615.30" y="209.10" font-size="8.5" fill="#0a0a0a" text-anchor="end">2515</text>
<text x="652.60" y="201.80" font-size="8.2" font-weight="bold" fill="#000" text-anchor="end">2663</text>
<text x="615.30" y="222.40" font-size="8.5" fill="#0a0a0a" text-anchor="end">383</text>
<text x="615.30" y="236.60" font-size="8.5" fill="#0a0a0a" text-anchor="end">29</text>
<text x="615.30" y="250.30" font-size="8.5" fill="#0a0a0a" text-anchor="end">220</text>
<text x="652.60" y="236.10" font-size="8.2" font-weight="bold" fill="#000" text-anchor="end">632</text>
<text x="618.30" y="267.80" font-size="11.7" font-weight="bold" fill="#fff" text-anchor="middle">4498</text>
<text x="618.30" y="287.70" font-size="11.6" font-weight="bold" fill="#000" text-anchor="middle">11844</text>
<text x="618.30" y="312.20" font-size="10.6" font-weight="bold" fill="#fff" text-anchor="middle">38%</text>
<text x="615.30" y="332.30" font-size="8.5" fill="#f6e4e3" text-anchor="end">6</text>
<text x="615.30" y="346.00" font-size="8.5" fill="#f6e4e3" text-anchor="end">182</text>
<text x="615.30" y="359.60" font-size="8.5" fill="#f6e4e3" text-anchor="end">178</text>
<text x="652.60" y="344.70" font-size="8.2" font-weight="bold" fill="#000" text-anchor="end">366</text>
<text x="652.60" y="372.50" font-size="8.2" font-weight="bold" fill="#000" text-anchor="end">329</text>
<text x="652.60" y="386.90" font-size="8.2" font-weight="bold" fill="#000" text-anchor="end">236</text>
<text x="618.30" y="405.50" font-size="11.7" font-weight="bold" fill="#fff" text-anchor="middle">931</text>
<text x="618.30" y="424.60" font-size="11.6" font-weight="bold" fill="#000" text-anchor="middle">1397</text>
<text x="618.30" y="448.50" font-size="10.5" font-weight="bold" fill="#fff" text-anchor="middle">67%</text>
<text x="618.30" y="490.60" font-size="9.5" font-weight="bold" fill="#000" text-anchor="middle">5429</text>
<text x="618.30" y="514.70" font-size="9.4" font-weight="bold" fill="#000" text-anchor="middle">13241</text>
<text x="618.30" y="546.20" font-size="9" font-weight="bold" fill="#eef8fb" text-anchor="middle">41%</text>
<text x="689.60" y="154.20" font-size="8.5" fill="#0a0a0a" text-anchor="end">22</text>
<text x="689.60" y="168.20" font-size="8.5" fill="#0a0a0a" text-anchor="end">884</text>
<text x="689.60" y="181.70" font-size="8.5" fill="#0a0a0a" text-anchor="end">310</text>
<text x="726.80" y="167.70" font-size="8.2" font-weight="bold" fill="#000" text-anchor="end">1216</text>
<text x="689.60" y="195.40" font-size="8.5" fill="#0a0a0a" text-anchor="end">147</text>
<text x="689.60" y="209.10" font-size="8.5" fill="#0a0a0a" text-anchor="end">2401</text>
<text x="726.80" y="201.80" font-size="8.2" font-weight="bold" fill="#000" text-anchor="end">2548</text>
<text x="689.60" y="222.40" font-size="8.5" fill="#0a0a0a" text-anchor="end">343</text>
<text x="689.60" y="236.60" font-size="8.5" fill="#0a0a0a" text-anchor="end">27</text>
<text x="689.60" y="250.30" font-size="8.5" fill="#0a0a0a" text-anchor="end">144</text>
<text x="726.80" y="236.10" font-size="8.2" font-weight="bold" fill="#000" text-anchor="end">514</text>
<text x="692.50" y="267.80" font-size="11.7" font-weight="bold" fill="#fff" text-anchor="middle">4278</text>
<text x="692.50" y="287.70" font-size="11.6" font-weight="bold" fill="#000" text-anchor="middle">10972</text>
<text x="692.50" y="312.20" font-size="10.6" font-weight="bold" fill="#fff" text-anchor="middle">39%</text>
<text x="689.60" y="332.30" font-size="8.5" fill="#f6e4e3" text-anchor="end">8</text>
<text x="689.60" y="346.00" font-size="8.5" fill="#f6e4e3" text-anchor="end">176</text>
<text x="689.60" y="359.60" font-size="8.5" fill="#f6e4e3" text-anchor="end">128</text>
<text x="726.80" y="344.70" font-size="8.2" font-weight="bold" fill="#000" text-anchor="end">312</text>
<text x="726.80" y="372.50" font-size="8.2" font-weight="bold" fill="#000" text-anchor="end">307</text>
<text x="726.80" y="386.90" font-size="8.2" font-weight="bold" fill="#000" text-anchor="end">265</text>
<text x="692.50" y="405.50" font-size="11.7" font-weight="bold" fill="#fff" text-anchor="middle">884</text>
<text x="692.50" y="424.60" font-size="11.6" font-weight="bold" fill="#000" text-anchor="middle">1299</text>
<text x="692.50" y="448.50" font-size="10.5" font-weight="bold" fill="#fff" text-anchor="middle">68%</text>
<text x="692.50" y="490.60" font-size="9.5" font-weight="bold" fill="#000" text-anchor="middle">5162</text>
<text x="692.50" y="514.70" font-size="9.4" font-weight="bold" fill="#000" text-anchor="middle">12271</text>
<text x="692.50" y="546.20" font-size="9" font-weight="bold" fill="#eef8fb" text-anchor="middle">42%</text>
<text x="763.90" y="154.20" font-size="8.5" fill="#0a0a0a" text-anchor="end">21</text>
<text x="763.90" y="168.20" font-size="8.5" fill="#0a0a0a" text-anchor="end">930</text>
<text x="763.90" y="181.70" font-size="8.5" fill="#0a0a0a" text-anchor="end">242</text>
<text x="801.00" y="167.70" font-size="8.2" font-weight="bold" fill="#000" text-anchor="end">1193</text>
<text x="763.90" y="195.40" font-size="8.5" fill="#0a0a0a" text-anchor="end">152</text>
<text x="763.90" y="209.10" font-size="8.5" fill="#0a0a0a" text-anchor="end">2399</text>
<text x="801.00" y="201.80" font-size="8.2" font-weight="bold" fill="#000" text-anchor="end">2551</text>
<text x="763.90" y="222.40" font-size="8.5" fill="#0a0a0a" text-anchor="end">355</text>
<text x="763.90" y="236.60" font-size="8.5" fill="#0a0a0a" text-anchor="end">31</text>
<text x="763.90" y="250.30" font-size="8.5" fill="#0a0a0a" text-anchor="end">161</text>
<text x="801.00" y="236.10" font-size="8.2" font-weight="bold" fill="#000" text-anchor="end">547</text>
<text x="766.70" y="267.80" font-size="11.7" font-weight="bold" fill="#fff" text-anchor="middle">4291</text>
<text x="766.70" y="287.70" font-size="11.6" font-weight="bold" fill="#000" text-anchor="middle">11134</text>
<text x="766.70" y="312.20" font-size="10.6" font-weight="bold" fill="#fff" text-anchor="middle">39%</text>
<text x="763.90" y="332.30" font-size="8.5" fill="#f6e4e3" text-anchor="end">6</text>
<text x="763.90" y="346.00" font-size="8.5" fill="#f6e4e3" text-anchor="end">163</text>
<text x="763.90" y="359.60" font-size="8.5" fill="#f6e4e3" text-anchor="end">149</text>
<text x="801.00" y="344.70" font-size="8.2" font-weight="bold" fill="#000" text-anchor="end">318</text>
<text x="801.00" y="372.50" font-size="8.2" font-weight="bold" fill="#000" text-anchor="end">327</text>
<text x="801.00" y="386.90" font-size="8.2" font-weight="bold" fill="#000" text-anchor="end">255</text>
<text x="766.70" y="405.50" font-size="11.7" font-weight="bold" fill="#fff" text-anchor="middle">900</text>
<text x="766.70" y="424.60" font-size="11.6" font-weight="bold" fill="#000" text-anchor="middle">1330</text>
<text x="766.70" y="448.50" font-size="10.5" font-weight="bold" fill="#fff" text-anchor="middle">68%</text>
<text x="766.70" y="490.60" font-size="9.5" font-weight="bold" fill="#000" text-anchor="middle">5191</text>
<text x="766.70" y="514.70" font-size="9.4" font-weight="bold" fill="#000" text-anchor="middle">12464</text>
<text x="766.70" y="546.20" font-size="9" font-weight="bold" fill="#eef8fb" text-anchor="middle">42%</text>
<text x="838.20" y="154.20" font-size="8.5" fill="#0a0a0a" text-anchor="end">22</text>
<text x="838.20" y="168.20" font-size="8.5" fill="#0a0a0a" text-anchor="end">864</text>
<text x="838.20" y="181.70" font-size="8.5" fill="#0a0a0a" text-anchor="end">264</text>
<text x="875.20" y="167.70" font-size="8.2" font-weight="bold" fill="#000" text-anchor="end">1150</text>
<text x="838.20" y="195.40" font-size="8.5" fill="#0a0a0a" text-anchor="end">156</text>
<text x="838.20" y="209.10" font-size="8.5" fill="#0a0a0a" text-anchor="end">2424</text>
<text x="875.20" y="201.80" font-size="8.2" font-weight="bold" fill="#000" text-anchor="end">2580</text>
<text x="838.20" y="222.40" font-size="8.5" fill="#0a0a0a" text-anchor="end">356</text>
<text x="838.20" y="236.60" font-size="8.5" fill="#0a0a0a" text-anchor="end">36</text>
<text x="838.20" y="250.30" font-size="8.5" fill="#0a0a0a" text-anchor="end">201</text>
<text x="875.20" y="236.10" font-size="8.2" font-weight="bold" fill="#000" text-anchor="end">593</text>
<text x="840.90" y="267.80" font-size="11.7" font-weight="bold" fill="#fff" text-anchor="middle">4323</text>
<text x="840.90" y="287.70" font-size="11.6" font-weight="bold" fill="#000" text-anchor="middle">11227</text>
<text x="840.90" y="312.20" font-size="10.6" font-weight="bold" fill="#fff" text-anchor="middle">39%</text>
<text x="838.20" y="332.30" font-size="8.5" fill="#f6e4e3" text-anchor="end">5</text>
<text x="838.20" y="346.00" font-size="8.5" fill="#f6e4e3" text-anchor="end">147</text>
<text x="838.20" y="359.60" font-size="8.5" fill="#f6e4e3" text-anchor="end">164</text>
<text x="875.20" y="344.70" font-size="8.2" font-weight="bold" fill="#000" text-anchor="end">316</text>
<text x="875.20" y="372.50" font-size="8.2" font-weight="bold" fill="#000" text-anchor="end">327</text>
<text x="875.20" y="386.90" font-size="8.2" font-weight="bold" fill="#000" text-anchor="end">248</text>
<text x="840.90" y="405.50" font-size="11.7" font-weight="bold" fill="#fff" text-anchor="middle">891</text>
<text x="840.90" y="424.60" font-size="11.6" font-weight="bold" fill="#000" text-anchor="middle">1318</text>
<text x="840.90" y="448.50" font-size="10.5" font-weight="bold" fill="#fff" text-anchor="middle">68%</text>
<text x="840.90" y="490.60" font-size="9.5" font-weight="bold" fill="#000" text-anchor="middle">5214</text>
<text x="840.90" y="514.70" font-size="9.4" font-weight="bold" fill="#000" text-anchor="middle">12545</text>
<text x="840.90" y="546.20" font-size="9" font-weight="bold" fill="#eef8fb" text-anchor="middle">42%</text>
<text x="912.50" y="154.20" font-size="8.5" fill="#0a0a0a" text-anchor="end">21</text>
<text x="912.50" y="168.20" font-size="8.5" fill="#0a0a0a" text-anchor="end">917</text>
<text x="912.50" y="181.70" font-size="8.5" fill="#0a0a0a" text-anchor="end">278</text>
<text x="949.40" y="167.70" font-size="8.2" font-weight="bold" fill="#000" text-anchor="end">1216</text>
<text x="912.50" y="195.40" font-size="8.5" fill="#0a0a0a" text-anchor="end">156</text>
<text x="912.50" y="209.10" font-size="8.5" fill="#0a0a0a" text-anchor="end">2435</text>
<text x="949.40" y="201.80" font-size="8.2" font-weight="bold" fill="#000" text-anchor="end">2591</text>
<text x="912.50" y="222.40" font-size="8.5" fill="#0a0a0a" text-anchor="end">353</text>
<text x="912.50" y="236.60" font-size="8.5" fill="#0a0a0a" text-anchor="end">32</text>
<text x="912.50" y="250.30" font-size="8.5" fill="#0a0a0a" text-anchor="end">206</text>
<text x="949.40" y="236.10" font-size="8.2" font-weight="bold" fill="#000" text-anchor="end">591</text>
<text x="915.10" y="267.80" font-size="11.7" font-weight="bold" fill="#fff" text-anchor="middle">4398</text>
<text x="915.10" y="287.70" font-size="11.6" font-weight="bold" fill="#000" text-anchor="middle">11193</text>
<text x="915.10" y="312.20" font-size="10.6" font-weight="bold" fill="#fff" text-anchor="middle">39%</text>
<text x="912.50" y="332.30" font-size="8.5" fill="#f6e4e3" text-anchor="end">3</text>
<text x="912.50" y="346.00" font-size="8.5" fill="#f6e4e3" text-anchor="end">147</text>
<text x="912.50" y="359.60" font-size="8.5" fill="#f6e4e3" text-anchor="end">146</text>
<text x="949.40" y="344.70" font-size="8.2" font-weight="bold" fill="#000" text-anchor="end">296</text>
<text x="949.40" y="372.50" font-size="8.2" font-weight="bold" fill="#000" text-anchor="end">344</text>
<text x="949.40" y="386.90" font-size="8.2" font-weight="bold" fill="#000" text-anchor="end">247</text>
<text x="915.10" y="405.50" font-size="11.7" font-weight="bold" fill="#fff" text-anchor="middle">887</text>
<text x="915.10" y="424.60" font-size="11.6" font-weight="bold" fill="#000" text-anchor="middle">1328</text>
<text x="915.10" y="448.50" font-size="10.5" font-weight="bold" fill="#fff" text-anchor="middle">67%</text>
<text x="915.10" y="490.60" font-size="9.5" font-weight="bold" fill="#000" text-anchor="middle">5285</text>
<text x="915.10" y="514.70" font-size="9.4" font-weight="bold" fill="#000" text-anchor="middle">12521</text>
<text x="915.10" y="546.20" font-size="9" font-weight="bold" fill="#eef8fb" text-anchor="middle">42%</text>
<text x="986.80" y="154.20" font-size="8.5" fill="#0a0a0a" text-anchor="end">24</text>
<text x="986.80" y="168.20" font-size="8.5" fill="#0a0a0a" text-anchor="end">837</text>
<text x="986.80" y="181.70" font-size="8.5" fill="#0a0a0a" text-anchor="end">288</text>
<text x="1023.60" y="167.70" font-size="8.2" font-weight="bold" fill="#000" text-anchor="end">1149</text>
<text x="986.80" y="195.40" font-size="8.5" fill="#0a0a0a" text-anchor="end">155</text>
<text x="986.80" y="209.10" font-size="8.5" fill="#0a0a0a" text-anchor="end">2456</text>
<text x="1023.60" y="201.80" font-size="8.2" font-weight="bold" fill="#000" text-anchor="end">2611</text>
<text x="986.80" y="222.40" font-size="8.5" fill="#0a0a0a" text-anchor="end">374</text>
<text x="986.80" y="236.60" font-size="8.5" fill="#0a0a0a" text-anchor="end">39</text>
<text x="986.80" y="250.30" font-size="8.5" fill="#0a0a0a" text-anchor="end">211</text>
<text x="1023.60" y="236.10" font-size="8.2" font-weight="bold" fill="#000" text-anchor="end">624</text>
<text x="989.30" y="267.80" font-size="11.7" font-weight="bold" fill="#fff" text-anchor="middle">4384</text>
<text x="989.30" y="287.70" font-size="11.6" font-weight="bold" fill="#000" text-anchor="middle">11170</text>
<text x="989.30" y="312.20" font-size="10.6" font-weight="bold" fill="#fff" text-anchor="middle">39%</text>
<text x="986.80" y="332.30" font-size="8.5" fill="#f6e4e3" text-anchor="end">3</text>
<text x="986.80" y="346.00" font-size="8.5" fill="#f6e4e3" text-anchor="end">153</text>
<text x="986.80" y="359.60" font-size="8.5" fill="#f6e4e3" text-anchor="end">154</text>
<text x="1023.60" y="344.70" font-size="8.2" font-weight="bold" fill="#000" text-anchor="end">310</text>
<text x="1023.60" y="372.50" font-size="8.2" font-weight="bold" fill="#000" text-anchor="end">330</text>
<text x="1023.60" y="386.90" font-size="8.2" font-weight="bold" fill="#000" text-anchor="end">246</text>
<text x="989.30" y="405.50" font-size="11.7" font-weight="bold" fill="#fff" text-anchor="middle">886</text>
<text x="989.30" y="424.60" font-size="11.6" font-weight="bold" fill="#000" text-anchor="middle">1320</text>
<text x="989.30" y="448.50" font-size="10.5" font-weight="bold" fill="#fff" text-anchor="middle">67%</text>
<text x="989.30" y="490.60" font-size="9.5" font-weight="bold" fill="#000" text-anchor="middle">5270</text>
<text x="989.30" y="514.70" font-size="9.4" font-weight="bold" fill="#000" text-anchor="middle">12490</text>
<text x="989.30" y="546.20" font-size="9" font-weight="bold" fill="#eef8fb" text-anchor="middle">42%</text>
<text x="1061.10" y="154.20" font-size="8.5" fill="#0a0a0a" text-anchor="end">18</text>
<text x="1061.10" y="168.20" font-size="8.5" fill="#0a0a0a" text-anchor="end">928</text>
<text x="1061.10" y="181.70" font-size="8.5" fill="#0a0a0a" text-anchor="end">276</text>
<text x="1097.80" y="167.70" font-size="8.2" font-weight="bold" fill="#000" text-anchor="end">1222</text>
<text x="1061.10" y="195.40" font-size="8.5" fill="#0a0a0a" text-anchor="end">149</text>
<text x="1061.10" y="209.10" font-size="8.5" fill="#0a0a0a" text-anchor="end">2428</text>
<text x="1097.80" y="201.80" font-size="8.2" font-weight="bold" fill="#000" text-anchor="end">2577</text>
<text x="1061.10" y="222.40" font-size="8.5" fill="#0a0a0a" text-anchor="end">381</text>
<text x="1061.10" y="236.60" font-size="8.5" fill="#0a0a0a" text-anchor="end">42</text>
<text x="1061.10" y="250.30" font-size="8.5" fill="#0a0a0a" text-anchor="end">199</text>
<text x="1097.80" y="236.10" font-size="8.2" font-weight="bold" fill="#000" text-anchor="end">622</text>
<text x="1063.50" y="267.80" font-size="11.7" font-weight="bold" fill="#fff" text-anchor="middle">4421</text>
<text x="1063.50" y="287.70" font-size="11.6" font-weight="bold" fill="#000" text-anchor="middle">11176</text>
<text x="1063.50" y="312.20" font-size="10.6" font-weight="bold" fill="#fff" text-anchor="middle">40%</text>
<text x="1061.10" y="332.30" font-size="8.5" fill="#f6e4e3" text-anchor="end">6</text>
<text x="1061.10" y="346.00" font-size="8.5" fill="#f6e4e3" text-anchor="end">139</text>
<text x="1061.10" y="359.60" font-size="8.5" fill="#f6e4e3" text-anchor="end">172</text>
<text x="1097.80" y="344.70" font-size="8.2" font-weight="bold" fill="#000" text-anchor="end">317</text>
<text x="1097.80" y="372.50" font-size="8.2" font-weight="bold" fill="#000" text-anchor="end">323</text>
<text x="1097.80" y="386.90" font-size="8.2" font-weight="bold" fill="#000" text-anchor="end">236</text>
<text x="1063.50" y="405.50" font-size="11.7" font-weight="bold" fill="#fff" text-anchor="middle">876</text>
<text x="1063.50" y="424.60" font-size="11.6" font-weight="bold" fill="#000" text-anchor="middle">1317</text>
<text x="1063.50" y="448.50" font-size="10.5" font-weight="bold" fill="#fff" text-anchor="middle">67%</text>
<text x="1063.50" y="490.60" font-size="9.5" font-weight="bold" fill="#000" text-anchor="middle">5297</text>
<text x="1063.50" y="514.70" font-size="9.4" font-weight="bold" fill="#000" text-anchor="middle">12493</text>
<text x="1063.50" y="546.20" font-size="9" font-weight="bold" fill="#eef8fb" text-anchor="middle">42%</text>
<text x="1135.40" y="154.20" font-size="8.5" fill="#0a0a0a" text-anchor="end">20</text>
<text x="1135.40" y="168.20" font-size="8.5" fill="#0a0a0a" text-anchor="end">895</text>
<text x="1135.40" y="181.70" font-size="8.5" fill="#0a0a0a" text-anchor="end">268</text>
<text x="1172.00" y="167.70" font-size="8.2" font-weight="bold" fill="#000" text-anchor="end">1183</text>
<text x="1135.40" y="195.40" font-size="8.5" fill="#0a0a0a" text-anchor="end">146</text>
<text x="1135.40" y="209.10" font-size="8.5" fill="#0a0a0a" text-anchor="end">2444</text>
<text x="1172.00" y="201.80" font-size="8.2" font-weight="bold" fill="#000" text-anchor="end">2590</text>
<text x="1135.40" y="222.40" font-size="8.5" fill="#0a0a0a" text-anchor="end">380</text>
<text x="1135.40" y="236.60" font-size="8.5" fill="#0a0a0a" text-anchor="end">35</text>
<text x="1135.40" y="250.30" font-size="8.5" fill="#0a0a0a" text-anchor="end">209</text>
<text x="1172.00" y="236.10" font-size="8.2" font-weight="bold" fill="#000" text-anchor="end">624</text>
<text x="1137.70" y="267.80" font-size="11.7" font-weight="bold" fill="#fff" text-anchor="middle">4397</text>
<text x="1137.70" y="287.70" font-size="11.6" font-weight="bold" fill="#000" text-anchor="middle">11093</text>
<text x="1137.70" y="312.20" font-size="10.6" font-weight="bold" fill="#fff" text-anchor="middle">40%</text>
<text x="1135.40" y="332.30" font-size="8.5" fill="#f6e4e3" text-anchor="end">7</text>
<text x="1135.40" y="346.00" font-size="8.5" fill="#f6e4e3" text-anchor="end">140</text>
<text x="1135.40" y="359.60" font-size="8.5" fill="#f6e4e3" text-anchor="end">158</text>
<text x="1172.00" y="344.70" font-size="8.2" font-weight="bold" fill="#000" text-anchor="end">305</text>
<text x="1172.00" y="372.50" font-size="8.2" font-weight="bold" fill="#000" text-anchor="end">328</text>
<text x="1172.00" y="386.90" font-size="8.2" font-weight="bold" fill="#000" text-anchor="end">238</text>
<text x="1137.70" y="405.50" font-size="11.7" font-weight="bold" fill="#fff" text-anchor="middle">871</text>
<text x="1137.70" y="424.60" font-size="11.6" font-weight="bold" fill="#000" text-anchor="middle">1302</text>
<text x="1137.70" y="448.50" font-size="10.5" font-weight="bold" fill="#fff" text-anchor="middle">67%</text>
<text x="1137.70" y="490.60" font-size="9.5" font-weight="bold" fill="#000" text-anchor="middle">5268</text>
<text x="1137.70" y="514.70" font-size="9.4" font-weight="bold" fill="#000" text-anchor="middle">12395</text>
<text x="1137.70" y="546.20" font-size="9" font-weight="bold" fill="#eef8fb" text-anchor="middle">43%</text>
<text x="1209.70" y="154.20" font-size="8.5" fill="#0a0a0a" text-anchor="end">22</text>
<text x="1209.70" y="168.20" font-size="8.5" fill="#0a0a0a" text-anchor="end">882</text>
<text x="1209.70" y="181.70" font-size="8.5" fill="#0a0a0a" text-anchor="end">316</text>
<text x="1246.20" y="167.70" font-size="8.2" font-weight="bold" fill="#000" text-anchor="end">1220</text>
<text x="1209.70" y="195.40" font-size="8.5" fill="#0a0a0a" text-anchor="end">155</text>
<text x="1209.70" y="209.10" font-size="8.5" fill="#0a0a0a" text-anchor="end">2405</text>
<text x="1246.20" y="201.80" font-size="8.2" font-weight="bold" fill="#000" text-anchor="end">2560</text>
<text x="1209.70" y="222.40" font-size="8.5" fill="#0a0a0a" text-anchor="end">371</text>
<text x="1209.70" y="236.60" font-size="8.5" fill="#0a0a0a" text-anchor="end">47</text>
<text x="1209.70" y="250.30" font-size="8.5" fill="#0a0a0a" text-anchor="end">214</text>
<text x="1246.20" y="236.10" font-size="8.2" font-weight="bold" fill="#000" text-anchor="end">632</text>
<text x="1211.90" y="267.80" font-size="11.7" font-weight="bold" fill="#fff" text-anchor="middle">4412</text>
<text x="1211.90" y="287.70" font-size="11.6" font-weight="bold" fill="#000" text-anchor="middle">11145</text>
<text x="1211.90" y="312.20" font-size="10.6" font-weight="bold" fill="#fff" text-anchor="middle">40%</text>
<text x="1209.70" y="332.30" font-size="8.5" fill="#f6e4e3" text-anchor="end">7</text>
<text x="1209.70" y="346.00" font-size="8.5" fill="#f6e4e3" text-anchor="end">146</text>
<text x="1209.70" y="359.60" font-size="8.5" fill="#f6e4e3" text-anchor="end">156</text>
<text x="1246.20" y="344.70" font-size="8.2" font-weight="bold" fill="#000" text-anchor="end">309</text>
<text x="1246.20" y="372.50" font-size="8.2" font-weight="bold" fill="#000" text-anchor="end">311</text>
<text x="1246.20" y="386.90" font-size="8.2" font-weight="bold" fill="#000" text-anchor="end">240</text>
<text x="1211.90" y="405.50" font-size="11.7" font-weight="bold" fill="#fff" text-anchor="middle">860</text>
<text x="1211.90" y="424.60" font-size="11.6" font-weight="bold" fill="#000" text-anchor="middle">1328</text>
<text x="1211.90" y="448.50" font-size="10.5" font-weight="bold" fill="#fff" text-anchor="middle">65%</text>
<text x="1211.90" y="490.60" font-size="9.5" font-weight="bold" fill="#000" text-anchor="middle">5272</text>
<text x="1211.90" y="514.70" font-size="9.4" font-weight="bold" fill="#000" text-anchor="middle">12473</text>
<text x="1211.90" y="546.20" font-size="9" font-weight="bold" fill="#eef8fb" text-anchor="middle">42%</text>
<text x="1284.00" y="154.20" font-size="8.5" fill="#0a0a0a" text-anchor="end">19</text>
<text x="1284.00" y="168.20" font-size="8.5" fill="#0a0a0a" text-anchor="end">911</text>
<text x="1284.00" y="181.70" font-size="8.5" fill="#0a0a0a" text-anchor="end">352</text>
<text x="1320.40" y="167.70" font-size="8.2" font-weight="bold" fill="#000" text-anchor="end">1282</text>
<text x="1284.00" y="195.40" font-size="8.5" fill="#0a0a0a" text-anchor="end">145</text>
<text x="1284.00" y="209.10" font-size="8.5" fill="#0a0a0a" text-anchor="end">2428</text>
<text x="1320.40" y="201.80" font-size="8.2" font-weight="bold" fill="#000" text-anchor="end">2573</text>
<text x="1284.00" y="222.40" font-size="8.5" fill="#0a0a0a" text-anchor="end">375</text>
<text x="1284.00" y="236.60" font-size="8.5" fill="#0a0a0a" text-anchor="end">49</text>
<text x="1284.00" y="250.30" font-size="8.5" fill="#0a0a0a" text-anchor="end">231</text>
<text x="1320.40" y="236.10" font-size="8.2" font-weight="bold" fill="#000" text-anchor="end">655</text>
<text x="1286.10" y="267.80" font-size="11.7" font-weight="bold" fill="#fff" text-anchor="middle">4510</text>
<text x="1286.10" y="287.70" font-size="11.6" font-weight="bold" fill="#000" text-anchor="middle">11155</text>
<text x="1286.10" y="312.20" font-size="10.6" font-weight="bold" fill="#fff" text-anchor="middle">40%</text>
<text x="1284.00" y="332.30" font-size="8.5" fill="#f6e4e3" text-anchor="end">7</text>
<text x="1284.00" y="346.00" font-size="8.5" fill="#f6e4e3" text-anchor="end">145</text>
<text x="1284.00" y="359.60" font-size="8.5" fill="#f6e4e3" text-anchor="end">162</text>
<text x="1320.40" y="344.70" font-size="8.2" font-weight="bold" fill="#000" text-anchor="end">314</text>
<text x="1320.40" y="372.50" font-size="8.2" font-weight="bold" fill="#000" text-anchor="end">308</text>
<text x="1320.40" y="386.90" font-size="8.2" font-weight="bold" fill="#000" text-anchor="end">237</text>
<text x="1286.10" y="405.50" font-size="11.7" font-weight="bold" fill="#fff" text-anchor="middle">859</text>
<text x="1286.10" y="424.60" font-size="11.6" font-weight="bold" fill="#000" text-anchor="middle">1328</text>
<text x="1286.10" y="448.50" font-size="10.5" font-weight="bold" fill="#fff" text-anchor="middle">65%</text>
<text x="1286.10" y="490.60" font-size="9.5" font-weight="bold" fill="#000" text-anchor="middle">5369</text>
<text x="1286.10" y="514.70" font-size="9.4" font-weight="bold" fill="#000" text-anchor="middle">12483</text>
<text x="1286.10" y="546.20" font-size="9" font-weight="bold" fill="#eef8fb" text-anchor="middle">43%</text>
<text x="67.30" y="585.90" font-size="8.4" font-weight="bold" fill="#000" textLength="1220.20" lengthAdjust="spacingAndGlyphs" xml:space="preserve">**Should be noted the numbers provided weekly are a snapshot of the day ** This summary data document was created by the Los Angeles County Sheriff’s Department as an internal population management tool.  The information contained within this report is deemed</text>
<text x="67.30" y="600.00" font-size="8.4" font-weight="bold" fill="#000" textLength="1239.50" lengthAdjust="spacingAndGlyphs" xml:space="preserve">accurate only as of the generation date and time due to the constant, dynamic change of the population.  The Department makes no warranties, express or implied, as to the fitness of this information for any purpose, or with respect to results obtained by individuals or other</text>
<text x="67.30" y="613.60" font-size="8.4" font-weight="bold" fill="#000" textLength="706.50" lengthAdjust="spacingAndGlyphs" xml:space="preserve">entities resulting from the use of any such information.  The report has been compiled on a best efforts basis, and, the information is subject to daily change.</text>
<text x="1069.30" y="641.10" font-size="8.4" font-weight="bold" fill="#000" textLength="224.60" lengthAdjust="spacingAndGlyphs">**The monthly and yearly numbers are calculated</text>
<clipPath id="cl"><rect x="60" y="649.2" width="300" height="1.7"/></clipPath>
<text x="76.00" y="656.20" font-size="8.4" font-weight="bold" fill="#000" textLength="197.00" lengthAdjust="spacingAndGlyphs" clip-path="url(#cl)">by the average of the weekly snapshot.**</text>
<rect x="68.5" y="658.5" width="635.70" height="257.30" fill="#fff" stroke="#dcdcdc" stroke-width="1"/>
<line x1="128.20" y1="682.40" x2="677.20" y2="682.40" stroke="#e3e3e3" stroke-width="1.0"/>
<text x="116.10" y="686.50" font-size="11.5" fill="#595959" text-anchor="end">5400</text>
<line x1="128.20" y1="711.41" x2="677.20" y2="711.41" stroke="#e3e3e3" stroke-width="1.0"/>
<text x="116.10" y="715.51" font-size="11.5" fill="#595959" text-anchor="end">4900</text>
<line x1="128.20" y1="740.42" x2="677.20" y2="740.42" stroke="#e3e3e3" stroke-width="1.0"/>
<text x="116.10" y="744.52" font-size="11.5" fill="#595959" text-anchor="end">4400</text>
<line x1="128.20" y1="769.43" x2="677.20" y2="769.43" stroke="#e3e3e3" stroke-width="1.0"/>
<text x="116.10" y="773.53" font-size="11.5" fill="#595959" text-anchor="end">3900</text>
<line x1="128.20" y1="798.44" x2="677.20" y2="798.44" stroke="#e3e3e3" stroke-width="1.0"/>
<text x="116.10" y="802.54" font-size="11.5" fill="#595959" text-anchor="end">3400</text>
<line x1="128.20" y1="827.45" x2="677.20" y2="827.45" stroke="#e3e3e3" stroke-width="1.0"/>
<text x="116.10" y="831.55" font-size="11.5" fill="#595959" text-anchor="end">2900</text>
<line x1="128.20" y1="856.46" x2="677.20" y2="856.46" stroke="#e3e3e3" stroke-width="1.0"/>
<text x="116.10" y="860.56" font-size="11.5" fill="#595959" text-anchor="end">2400</text>
<line x1="128.20" y1="885.47" x2="677.20" y2="885.47" stroke="#e3e3e3" stroke-width="1.0"/>
<text x="116.10" y="889.57" font-size="11.5" fill="#595959" text-anchor="end">1900</text>
<line x1="139.64" y1="740.50" x2="665.76" y2="736.86" stroke="#8fb2e0" stroke-width="1.4" stroke-dasharray="1.4 1.4"/>
<polyline points="139.64,776.86 162.51,751.91 185.39,727.08 208.26,733.23 231.14,706.77 254.01,719.42 276.89,734.73 299.76,747.50 322.64,746.74 368.39,744.89 414.14,740.54 459.89,741.35 505.64,739.20 551.39,740.59 597.14,739.72 642.89,734.04" fill="none" stroke="#4a7ebb" stroke-width="2.6" stroke-linejoin="round" stroke-linecap="round"/>
<circle cx="139.64" cy="776.86" r="3.0" fill="#4a7ebb"/>
<circle cx="162.51" cy="751.91" r="3.0" fill="#4a7ebb"/>
<circle cx="185.39" cy="727.08" r="3.0" fill="#4a7ebb"/>
<circle cx="208.26" cy="733.23" r="3.0" fill="#4a7ebb"/>
<circle cx="231.14" cy="706.77" r="3.0" fill="#4a7ebb"/>
<circle cx="254.01" cy="719.42" r="3.0" fill="#4a7ebb"/>
<circle cx="276.89" cy="734.73" r="3.0" fill="#4a7ebb"/>
<circle cx="299.76" cy="747.50" r="3.0" fill="#4a7ebb"/>
<circle cx="322.64" cy="746.74" r="3.0" fill="#4a7ebb"/>
<circle cx="368.39" cy="744.89" r="3.0" fill="#4a7ebb"/>
<circle cx="414.14" cy="740.54" r="3.0" fill="#4a7ebb"/>
<circle cx="459.89" cy="741.35" r="3.0" fill="#4a7ebb"/>
<circle cx="505.64" cy="739.20" r="3.0" fill="#4a7ebb"/>
<circle cx="551.39" cy="740.59" r="3.0" fill="#4a7ebb"/>
<circle cx="597.14" cy="739.72" r="3.0" fill="#4a7ebb"/>
<circle cx="642.89" cy="734.04" r="3.0" fill="#4a7ebb"/>
<text x="139.64" y="898.80" font-size="7.3" fill="#666" text-anchor="middle">2017</text>
<text x="162.51" y="898.80" font-size="7.3" fill="#666" text-anchor="middle">2018</text>
<text x="185.39" y="898.80" font-size="7.3" fill="#666" text-anchor="middle">2019</text>
<text x="208.26" y="898.80" font-size="7.3" fill="#666" text-anchor="middle">2020</text>
<text x="231.14" y="898.80" font-size="7.3" fill="#666" text-anchor="middle">2021</text>
<text x="254.01" y="898.80" font-size="7.3" fill="#666" text-anchor="middle">2022</text>
<text x="276.89" y="898.80" font-size="7.3" fill="#666" text-anchor="middle">2023</text>
<text x="299.76" y="898.80" font-size="7.3" fill="#666" text-anchor="middle">2024</text>
<text x="299.76" y="908.60" font-size="7.3" fill="#666" text-anchor="middle">JAN</text>
<text x="322.64" y="898.80" font-size="7.3" fill="#666" text-anchor="middle">2024</text>
<text x="322.64" y="908.60" font-size="7.3" fill="#666" text-anchor="middle">FEB</text>
<text x="368.39" y="898.80" font-size="7.3" fill="#666" text-anchor="middle">2024</text>
<text x="368.39" y="908.60" font-size="7.3" fill="#666" text-anchor="middle">03/05</text>
<text x="414.14" y="898.80" font-size="7.3" fill="#666" text-anchor="middle">2024</text>
<text x="414.14" y="908.60" font-size="7.3" fill="#666" text-anchor="middle">03/12</text>
<text x="459.89" y="898.80" font-size="7.3" fill="#666" text-anchor="middle">2024</text>
<text x="459.89" y="908.60" font-size="7.3" fill="#666" text-anchor="middle">03/19</text>
<text x="505.64" y="898.80" font-size="7.3" fill="#666" text-anchor="middle">2024</text>
<text x="505.64" y="908.60" font-size="7.3" fill="#666" text-anchor="middle">03/26</text>
<text x="551.39" y="898.80" font-size="7.3" fill="#666" text-anchor="middle">2024</text>
<text x="551.39" y="908.60" font-size="7.3" fill="#666" text-anchor="middle">04/02</text>
<text x="597.14" y="898.80" font-size="7.3" fill="#666" text-anchor="middle">2024</text>
<text x="597.14" y="908.60" font-size="7.3" fill="#666" text-anchor="middle">04/09</text>
<text x="642.89" y="898.80" font-size="7.3" fill="#666" text-anchor="middle">2024</text>
<text x="642.89" y="908.60" font-size="7.3" fill="#666" text-anchor="middle">04/16</text>
<text x="386.20" y="675.70" font-size="8.6" font-weight="bold" fill="#1f3864" text-anchor="middle" textLength="172.80" lengthAdjust="spacingAndGlyphs">LASD MALE MENTAL HEALTH INMATES</text>
<rect x="718.5" y="657.7" width="598.90" height="257.30" fill="#fff" stroke="#dcdcdc" stroke-width="1"/>
<line x1="757.60" y1="693.20" x2="1314.40" y2="693.20" stroke="#e3e3e3" stroke-width="1.0"/>
<text x="744.70" y="697.30" font-size="11.5" fill="#595959" text-anchor="end">1150</text>
<line x1="757.60" y1="725.75" x2="1314.40" y2="725.75" stroke="#e3e3e3" stroke-width="1.0"/>
<text x="744.70" y="729.85" font-size="11.5" fill="#595959" text-anchor="end">1050</text>
<line x1="757.60" y1="758.30" x2="1314.40" y2="758.30" stroke="#e3e3e3" stroke-width="1.0"/>
<text x="744.70" y="762.40" font-size="11.5" fill="#595959" text-anchor="end">950</text>
<line x1="757.60" y1="790.85" x2="1314.40" y2="790.85" stroke="#e3e3e3" stroke-width="1.0"/>
<text x="744.70" y="794.95" font-size="11.5" fill="#595959" text-anchor="end">850</text>
<line x1="757.60" y1="823.40" x2="1314.40" y2="823.40" stroke="#e3e3e3" stroke-width="1.0"/>
<text x="744.70" y="827.50" font-size="11.5" fill="#595959" text-anchor="end">750</text>
<line x1="757.60" y1="855.95" x2="1314.40" y2="855.95" stroke="#e3e3e3" stroke-width="1.0"/>
<text x="744.70" y="860.05" font-size="11.5" fill="#595959" text-anchor="end">650</text>
<line x1="757.60" y1="888.50" x2="1314.40" y2="888.50" stroke="#e3e3e3" stroke-width="1.0"/>
<text x="744.70" y="892.60" font-size="11.5" fill="#595959" text-anchor="end">550</text>
<line x1="769.20" y1="765.43" x2="1302.80" y2="789.48" stroke="#e3000f" stroke-width="1.4" stroke-dasharray="1.4 1.4"/>
<polyline points="769.20,785.64 792.40,771.65 815.60,727.05 838.80,777.18 862.00,776.20 885.20,767.74 908.40,764.48 931.60,779.78 954.80,774.58 1001.20,777.50 1047.60,778.81 1094.00,779.13 1140.40,782.39 1186.80,784.01 1233.20,787.60 1279.60,787.92" fill="none" stroke="#e3000f" stroke-width="2.6" stroke-linejoin="round" stroke-linecap="round"/>
<circle cx="769.20" cy="785.64" r="3.0" fill="#e3000f"/>
<circle cx="792.40" cy="771.65" r="3.0" fill="#e3000f"/>
<circle cx="815.60" cy="727.05" r="3.0" fill="#e3000f"/>
<circle cx="838.80" cy="777.18" r="3.0" fill="#e3000f"/>
<circle cx="862.00" cy="776.20" r="3.0" fill="#e3000f"/>
<circle cx="885.20" cy="767.74" r="3.0" fill="#e3000f"/>
<circle cx="908.40" cy="764.48" r="3.0" fill="#e3000f"/>
<circle cx="931.60" cy="779.78" r="3.0" fill="#e3000f"/>
<circle cx="954.80" cy="774.58" r="3.0" fill="#e3000f"/>
<circle cx="1001.20" cy="777.50" r="3.0" fill="#e3000f"/>
<circle cx="1047.60" cy="778.81" r="3.0" fill="#e3000f"/>
<circle cx="1094.00" cy="779.13" r="3.0" fill="#e3000f"/>
<circle cx="1140.40" cy="782.39" r="3.0" fill="#e3000f"/>
<circle cx="1186.80" cy="784.01" r="3.0" fill="#e3000f"/>
<circle cx="1233.20" cy="787.60" r="3.0" fill="#e3000f"/>
<circle cx="1279.60" cy="787.92" r="3.0" fill="#e3000f"/>
<text x="769.20" y="901.40" font-size="7.3" fill="#666" text-anchor="middle">2017</text>
<text x="792.40" y="901.40" font-size="7.3" fill="#666" text-anchor="middle">2018</text>
<text x="815.60" y="901.40" font-size="7.3" fill="#666" text-anchor="middle">2019</text>
<text x="838.80" y="901.40" font-size="7.3" fill="#666" text-anchor="middle">2020</text>
<text x="862.00" y="901.40" font-size="7.3" fill="#666" text-anchor="middle">2021</text>
<text x="885.20" y="901.40" font-size="7.3" fill="#666" text-anchor="middle">2022</text>
<text x="908.40" y="901.40" font-size="7.3" fill="#666" text-anchor="middle">2023</text>
<text x="931.60" y="901.40" font-size="7.3" fill="#666" text-anchor="middle">2024</text>
<text x="931.60" y="911.20" font-size="7.3" fill="#666" text-anchor="middle">JAN</text>
<text x="954.80" y="901.40" font-size="7.3" fill="#666" text-anchor="middle">2024</text>
<text x="954.80" y="911.20" font-size="7.3" fill="#666" text-anchor="middle">FEB</text>
<text x="1001.20" y="901.40" font-size="7.3" fill="#666" text-anchor="middle">2024</text>
<text x="1001.20" y="911.20" font-size="7.3" fill="#666" text-anchor="middle">03/05</text>
<text x="1047.60" y="901.40" font-size="7.3" fill="#666" text-anchor="middle">2024</text>
<text x="1047.60" y="911.20" font-size="7.3" fill="#666" text-anchor="middle">03/12</text>
<text x="1094.00" y="901.40" font-size="7.3" fill="#666" text-anchor="middle">2024</text>
<text x="1094.00" y="911.20" font-size="7.3" fill="#666" text-anchor="middle">03/19</text>
<text x="1140.40" y="901.40" font-size="7.3" fill="#666" text-anchor="middle">2024</text>
<text x="1140.40" y="911.20" font-size="7.3" fill="#666" text-anchor="middle">03/26</text>
<text x="1186.80" y="901.40" font-size="7.3" fill="#666" text-anchor="middle">2024</text>
<text x="1186.80" y="911.20" font-size="7.3" fill="#666" text-anchor="middle">04/02</text>
<text x="1233.20" y="901.40" font-size="7.3" fill="#666" text-anchor="middle">2024</text>
<text x="1233.20" y="911.20" font-size="7.3" fill="#666" text-anchor="middle">04/09</text>
<text x="1279.60" y="901.40" font-size="7.3" fill="#666" text-anchor="middle">2024</text>
<text x="1279.60" y="911.20" font-size="7.3" fill="#666" text-anchor="middle">04/16</text>
<text x="977.20" y="670.60" font-size="8.6" font-weight="bold" fill="#e3000f" text-anchor="middle" textLength="179.20" lengthAdjust="spacingAndGlyphs">LASD FEMALE MENTALHEALTH INMATES</text>
</svg>
</body></html>
